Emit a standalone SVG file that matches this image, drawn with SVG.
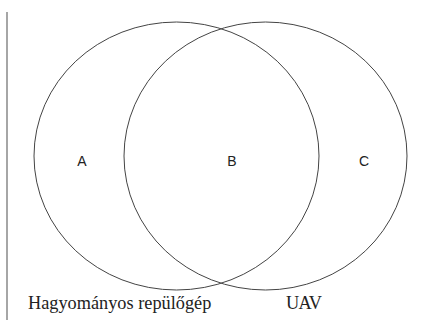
<svg xmlns="http://www.w3.org/2000/svg" width="423" height="320" viewBox="0 0 423 320">
<style>
.c{fill:none;stroke:#444;stroke-width:1}
.l{font-family:"Liberation Sans",Arial,sans-serif;font-size:14px;fill:#222;text-anchor:middle}
.s{font-family:"Liberation Serif","Times New Roman",serif;font-size:18.3px;fill:#222}
</style>
<rect width="423" height="320" fill="#fff"/>
<line x1="7" y1="12" x2="7" y2="320" stroke="#888" stroke-width="1.5"/>
<g id="setA"><ellipse class="c" cx="176.5" cy="156" rx="142.5" ry="134"/></g>
<g id="setC"><ellipse class="c" cx="265.5" cy="156" rx="141.5" ry="134"/></g>
<g id="labels">
<text class="l" x="82" y="166">A</text>
<text class="l" x="232" y="166">B</text>
<text class="l" x="364" y="166">C</text>
<text class="s" x="28" y="309">Hagyományos repülőgép</text>
<text class="s" x="286" y="309" textLength="36">UAV</text>
</g>
</svg>
